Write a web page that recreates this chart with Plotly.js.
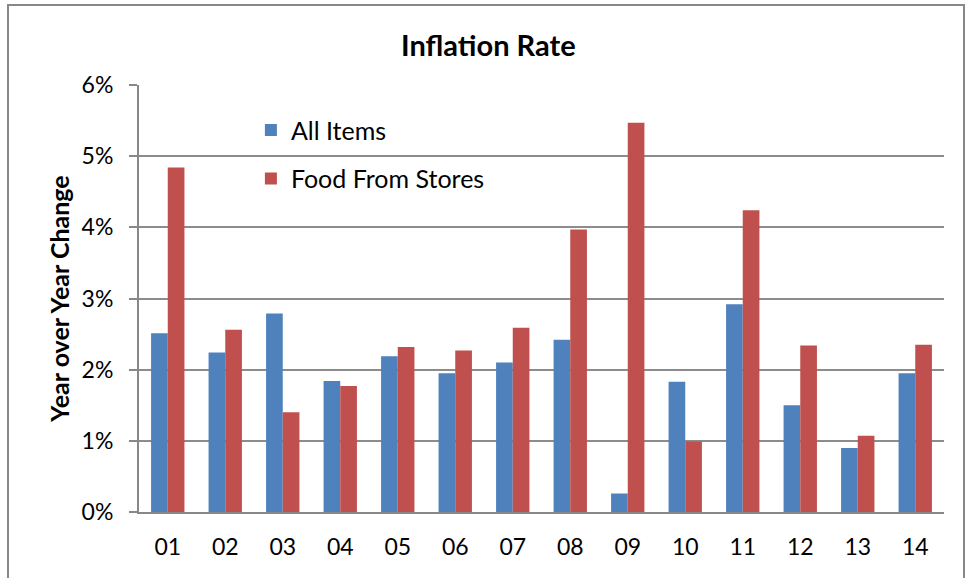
<!DOCTYPE html>
<html>
<head>
<meta charset="utf-8">
<script src="https://cdn.plot.ly/plotly-3.0.1.min.js"></script>
<style>
  html, body { margin: 0; padding: 0; background: #fff; overflow: hidden; }
  #frame { position: absolute; left: 7px; top: 4px; width: 958px; height: 700px;
           border: 2px solid #888; border-bottom: none; box-sizing: border-box; }
  #chart { position: absolute; left: 0; top: 0; width: 969px; height: 578px; }
</style>
</head>
<body>
<div id="frame"></div>
<div id="chart"></div>
<script>
const years = ["01","02","03","04","05","06","07","08","09","10","11","12","13","14"];
const allItems = [2.51, 2.24, 2.79, 1.84, 2.19, 1.95, 2.10, 2.42, 0.26, 1.83, 2.92, 1.50, 0.90, 1.95];
const foodFromStores = [4.84, 2.56, 1.40, 1.77, 2.32, 2.27, 2.59, 3.97, 5.47, 0.99, 4.24, 2.34, 1.07, 2.35];
const yTicks = [0, 1, 2, 3, 4, 5, 6];
const yTickLabels = ["0%", "1%", "2%", "3%", "4%", "5%", "6%"];

const FONT = "Lato, 'Open Sans', sans-serif";

const traces = [
  { type: "bar", name: "All Items", x: years, y: allItems, legendgroup: "a",
    marker: { color: "#4F81BD" } },
  { type: "bar", name: "Food From Stores", x: years, y: foodFromStores, legendgroup: "b",
    marker: { color: "#C0504D" } }
];

const layout = {
  width: 969, height: 578,
  paper_bgcolor: "rgba(0,0,0,0)", plot_bgcolor: "rgba(0,0,0,0)",
  margin: { l: 139, r: 25, t: 85, b: 66 },
  font: { family: FONT, color: "#000", size: 22 },
  title: { text: "<b>Inflation Rate</b>", x: 0.504, xanchor: "center", y: 0.92, yanchor: "middle",
           font: { family: FONT, size: 29, color: "#000" } },
  barmode: "group", bargap: 0.42, bargroupgap: 0,
  showlegend: true,
  legend: { x: 0.139, y: 0.948, xanchor: "left", yanchor: "top", bgcolor: "rgba(0,0,0,0)",
            font: { family: FONT, size: 25, color: "#000" }, traceorder: "grouped",
            tracegroupgap: 13, itemclick: false },
  xaxis: { type: "category", showline: true, linecolor: "#888", linewidth: 2,
           ticks: "", showgrid: false, zeroline: false,
           tickfont: { family: FONT, size: 23, color: "#000" }, ticklabelstandoff: 13 },
  yaxis: { range: [0, 6], tickvals: yTicks, ticktext: yTickLabels, showline: true, linecolor: "#888",
           linewidth: 2, ticks: "outside", ticklen: 8, tickcolor: "#888", tickwidth: 2,
           showgrid: true, gridcolor: "#8c8c8c", gridwidth: 2, zeroline: false,
           tickfont: { family: FONT, size: 23, color: "#000" }, ticklabelstandoff: 11,
           title: { text: "<b>Year over Year Change</b>", standoff: 5,
                    font: { family: FONT, size: 25, color: "#000" } } }
};

Plotly.newPlot("chart", traces, layout, { displayModeBar: false, staticPlot: true });
</script>
</body>
</html>
